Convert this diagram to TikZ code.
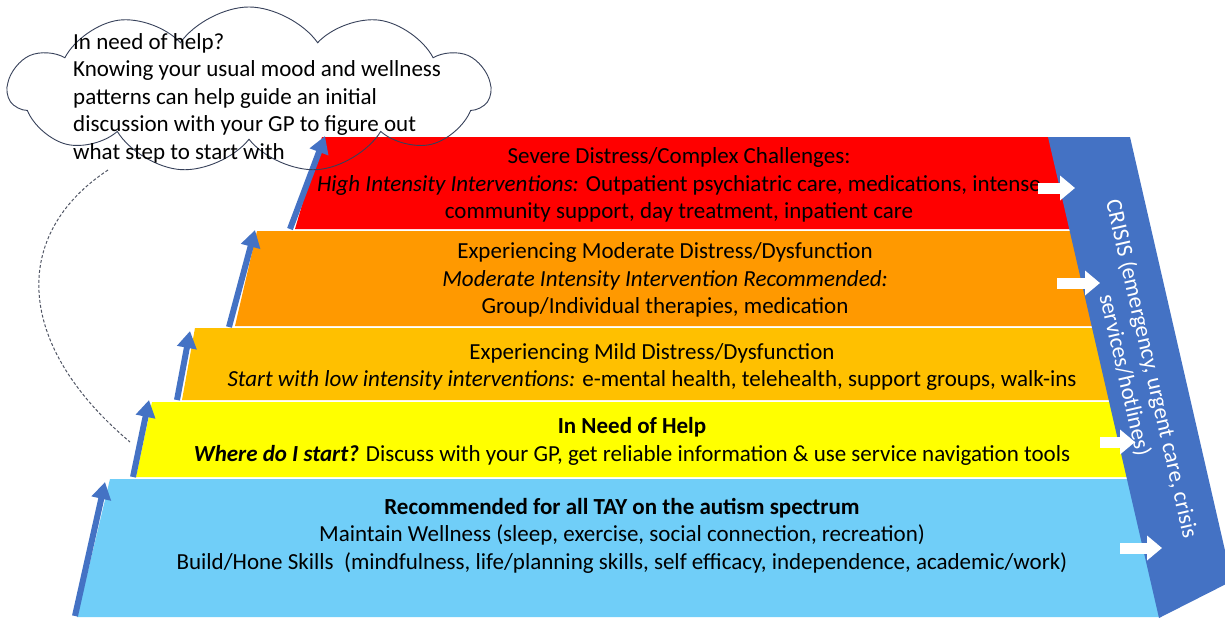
\documentclass[tikz,border=0pt]{standalone}
\usepackage{fontspec}
\setmainfont{Carlito}
\usetikzlibrary{arrows.meta,shapes.symbols}
\definecolor{layblue}{RGB}{112,206,248}
\definecolor{layyellow}{RGB}{255,255,0}
\definecolor{layamber}{RGB}{255,192,0}
\definecolor{layorange}{RGB}{255,153,0}
\definecolor{layred}{RGB}{255,0,0}
\definecolor{bandblue}{RGB}{68,114,196}
\definecolor{cloudline}{RGB}{55,65,90}
\definecolor{dashgray}{RGB}{80,85,100}
\begin{document}
\begin{tikzpicture}[x=1pt,y=-1pt,
  laytext/.style={font=\fontsize{23}{27.5}\selectfont, align=center, text=black, inner sep=0pt},
  stairarrow/.style={draw=bandblue, line width=6pt, -{Triangle[width=19pt,length=17pt]}},
  crisisarrow/.style={draw=white, line width=11pt, -{Triangle[width=24pt,length=15pt]}},
  dashcurve/.style={draw=dashgray, line width=1pt, dash pattern=on 3pt off 2pt},
  cloudstyle/.style={cloud, draw=cloudline, line width=0.9pt, cloud puffs=11, cloud puff arc=110, cloud ignores aspect, minimum width=482pt, minimum height=166pt, inner sep=0pt}
]
\useasboundingbox (0,0) rectangle (1225,621);
\fill[white] (0,0) rectangle (1225,621);

% layers
\fill[layred] (295,229) -- (322,137) -- (1073,137) -- (1094,229) -- cycle;
\fill[layorange] (235,326) -- (257,231) -- (1094,231) -- (1117,326) -- cycle;
\fill[layamber] (182,400) -- (195,328) -- (1117,328) -- (1133,400) -- cycle;
\fill[layyellow] (136,477) -- (152,402) -- (1134,402) -- (1151,477) -- cycle;
\fill[layblue] (77,617) -- (110,479) -- (1140,479) -- (1160,617) -- cycle;

% layer texts
\node[laytext] (redtxt) at (679,185) {Severe Distress/Complex Challenges:\\\textit{High Intensity Interventions:} Outpatient psychiatric care, medications, intense\\community support, day treatment, inpatient care};
\node[laytext] (orangetxt) at (665,280) {Experiencing Moderate Distress/Dysfunction\\\textit{Moderate Intensity Intervention Recommended:}\\Group/Individual therapies, medication};
\node[laytext] (ambertxt) at (652,367) {Experiencing Mild Distress/Dysfunction\\\textit{Start with low intensity interventions:} e-mental health, telehealth, support groups, walk-ins};
\node[laytext] (yellowtxt) at (632,441.5) {\textbf{In Need of Help}\\\textbf{\textit{Where do I start?}} Discuss with your GP, get reliable information \& use service navigation tools};
\node[laytext] (bluetxt) at (622,535.5) {\textbf{Recommended for all TAY on the autism spectrum}\\Maintain Wellness (sleep, exercise, social connection, recreation)\\Build/Hone Skills\ \ (mindfulness, life/planning skills, self efficacy, independence, academic/work)};

% crisis band
\begin{scope}
\clip (0,0) rectangle (1225,621);
\fill[bandblue] (1048,137) -- (1130,137) -- (1232,581) -- (1159,618) -- cycle;
\end{scope}
\node[rotate=-77, text=white, font=\fontsize{23}{27.5}\selectfont, align=center, inner sep=0pt] (crisistxt) at (1138,372) {CRISIS (emergency, urgent care, crisis\\services/hotlines)};

% white arrows into crisis band
\coordinate (wa1s) at (1038,188); \coordinate (wa1e) at (1075,188);
\coordinate (wa2s) at (1057,283); \coordinate (wa2e) at (1100,283);
\coordinate (wa3s) at (1100,442); \coordinate (wa3e) at (1135,442);
\coordinate (wa4s) at (1120,548); \coordinate (wa4e) at (1162,548);
\draw[crisisarrow] (wa1s) -- (wa1e);
\draw[crisisarrow] (wa2s) -- (wa2e);
\draw[crisisarrow] (wa3s) -- (wa3e);
\draw[crisisarrow] (wa4s) -- (wa4e);

% stair arrows
\coordinate (sa1s) at (75,616); \coordinate (sa1e) at (105,482);
\coordinate (sa2s) at (133,477); \coordinate (sa2e) at (149,400);
\coordinate (sa3s) at (177,400); \coordinate (sa3e) at (190,331);
\coordinate (sa4s) at (229,327); \coordinate (sa4e) at (255,230);
\coordinate (sa5s) at (290,229); \coordinate (sa5e) at (325,136);
\draw[stairarrow] (sa1s) -- (sa1e);
\draw[stairarrow] (sa2s) -- (sa2e);
\draw[stairarrow] (sa3s) -- (sa3e);
\draw[stairarrow] (sa4s) -- (sa4e);
\draw[stairarrow] (sa5s) -- (sa5e);

% cloud
\node[cloudstyle] (cloud) at (249,90) {};
\node[anchor=north west, align=left, font=\fontsize{23}{27.5}\selectfont, inner sep=0pt] (cloudtxt) at (73,33) {In need of help?\\Knowing your usual mood and wellness\\patterns can help guide an initial\\discussion with your GP to figure out\\what step to start with};

% dashed connector
\coordinate (dstart) at (108,170);
\coordinate (dend) at (130,442);
\draw[dashcurve] (dstart) .. controls (10,235) and (15,345) .. (dend);
\end{tikzpicture}
\end{document}
